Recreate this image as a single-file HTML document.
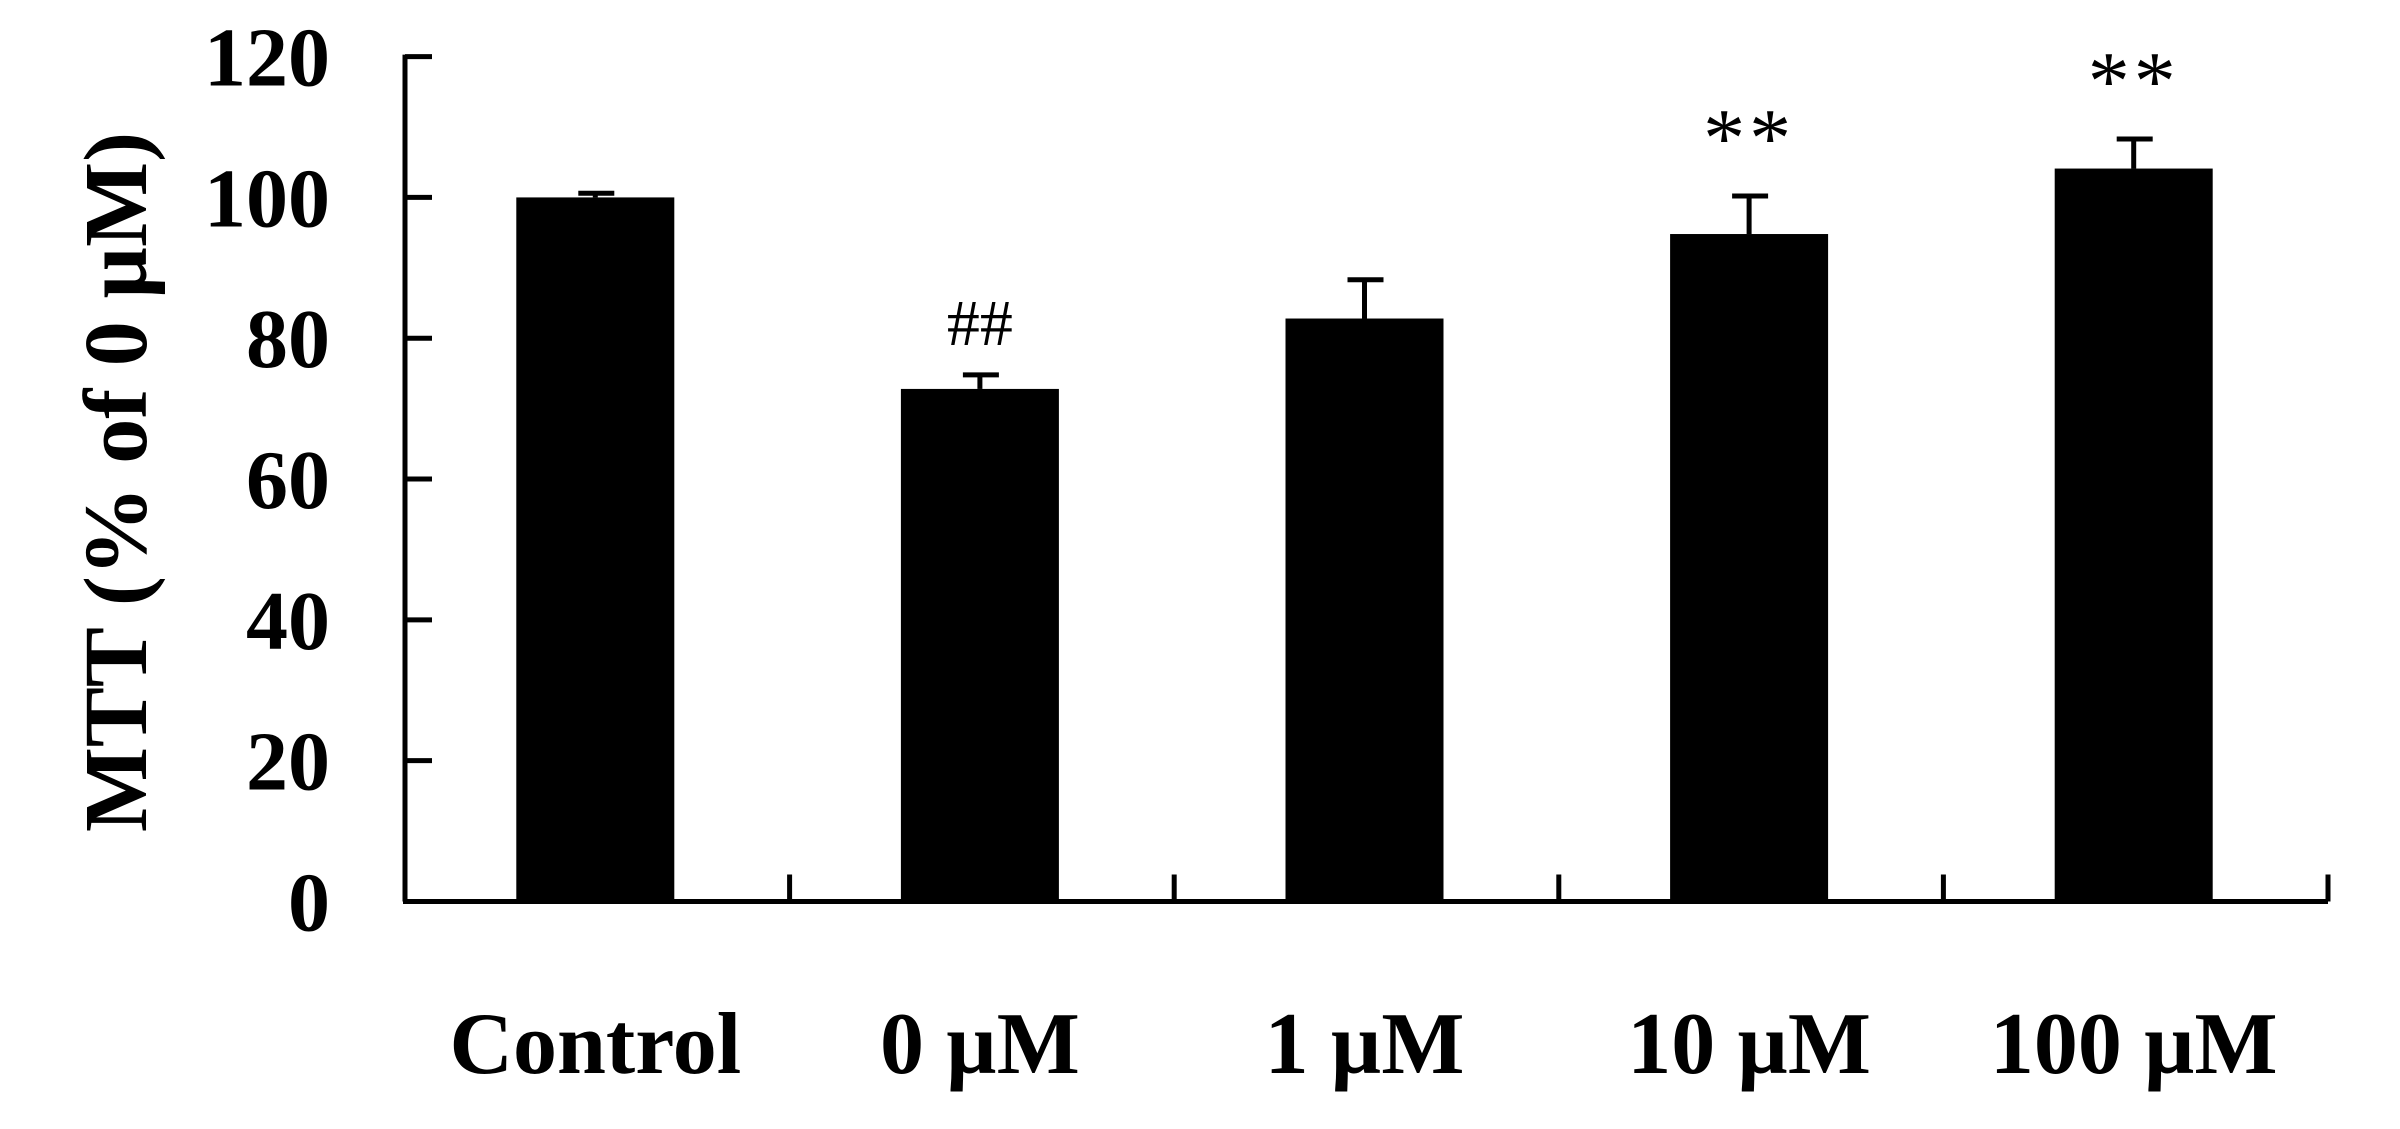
<!DOCTYPE html>
<html><head><meta charset="utf-8"><style>
html,body{margin:0;padding:0;background:#fff;}
svg{display:block;font-family:"Liberation Serif",serif;font-weight:bold;}
</style></head><body>
<svg id="chart" width="2400" height="1129" viewBox="0 0 2400 1129">
<g id="g"></g>
</svg>
<script>
const categories = ["Control","0 \u00b5M","1 \u00b5M","10 \u00b5M","100 \u00b5M"];
const values = [100, 72.8, 82.8, 94.8, 104.1];
const errors = [0.6, 2.0, 5.5, 5.4, 4.2];
const annotations = ["", "##", "", "**", "**"];
const yTicks = [0,20,40,60,80,100,120];

const NS="http://www.w3.org/2000/svg";
const g=document.getElementById('g');
const x0=405, x1=2328, yTop=56.6, yBot=901.5, yMax=120;
const y=v=>yBot-(v/yMax)*(yBot-yTop);
const band=(x1-x0)/categories.length;
const xc=i=>x0+band*(i+0.5)-2;
const barW=158;
function el(t,a,txt){const e=document.createElementNS(NS,t);for(const k in a)e.setAttribute(k,a[k]);if(txt!==undefined)e.textContent=txt;g.appendChild(e);return e;}

let e;
e=el('line',{x1:x0,y1:yTop-2,x2:x0,y2:yBot,stroke:'#000','stroke-width':5});


e=el('line',{x1:x0-2,y1:yBot,x2:x1,y2:yBot,stroke:'#000','stroke-width':5});



yTicks.forEach(t=>{
  let l=el('line',{x1:x0,y1:y(t),x2:x0+27,y2:y(t),stroke:'#000','stroke-width':5});
  
  
  let tx=el('text',{x:330,y:y(t)+29,'text-anchor':'end','font-size':84},String(t));
  
  
});
for(let i=1;i<=categories.length;i++){
  let xx=x0+band*i;
  let l=el('line',{x1:xx,y1:yBot,x2:xx,y2:yBot-27,stroke:'#000','stroke-width':5});
  
  
}
categories.forEach((c,i)=>{
  const cx=xc(i);
  let r=el('rect',{x:cx-barW/2,y:y(values[i]),width:barW,height:yBot-y(values[i]),fill:'#000'});
  
  
  const et=y(values[i]+errors[i]);
  let eb=el('line',{x1:cx,y1:y(values[i]),x2:cx,y2:et,stroke:'#000','stroke-width':5});
  
  
  let cap=el('line',{x1:cx-17,y1:et,x2:cx+19,y2:et,stroke:'#000','stroke-width':5});
  
  
  if(annotations[i]){
    let a=el('text',{x:cx,y:et-30,'text-anchor':'middle','font-size':annotations[i]=='##'?66:84,'font-weight':'normal','letter-spacing':annotations[i]=='**'?4:0},annotations[i]);
    
    
  }
  let lb=el('text',{x:cx,y:1073,'text-anchor':'middle','font-size':88},c);
  
  
});
let t=el('text',{x:0,y:0,'text-anchor':'middle','font-size':90,transform:'translate(146,482) rotate(-90)'},"MTT (% of 0 \u00b5M)");


</script>
</body></html>
